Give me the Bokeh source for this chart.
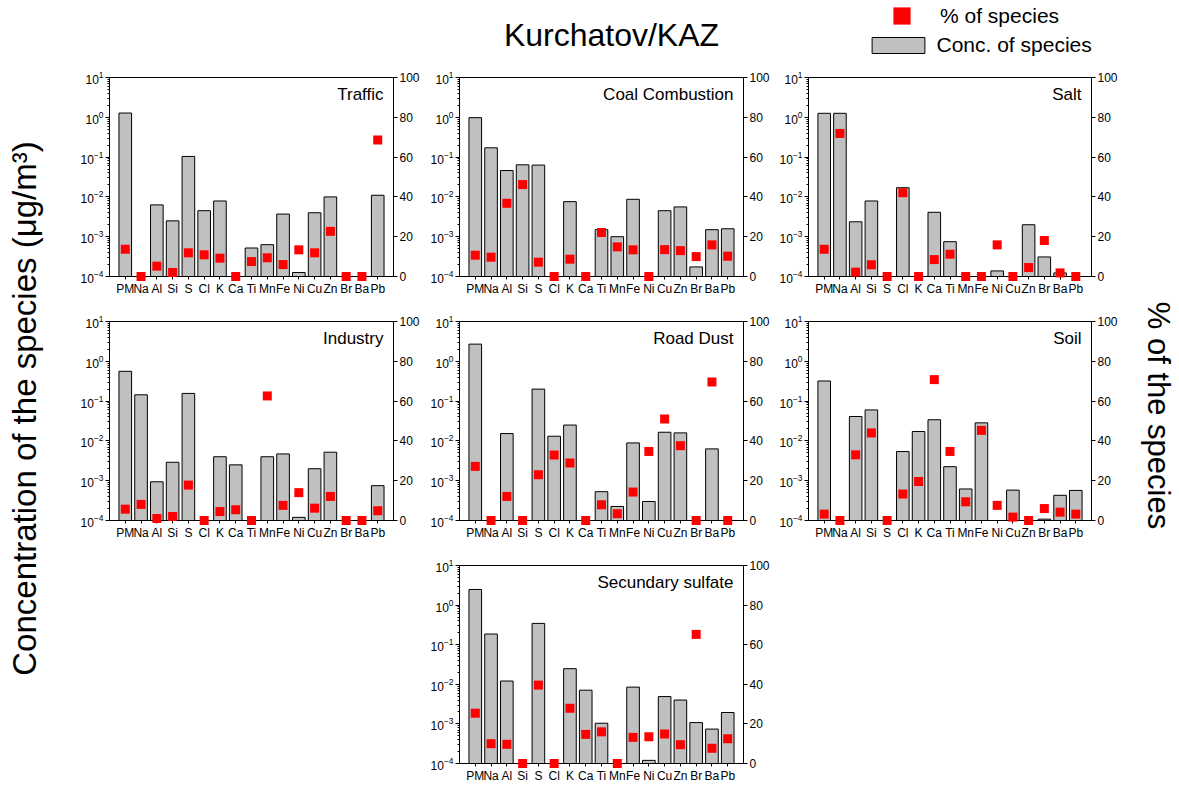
from math import pi
from bokeh.plotting import figure
from bokeh.models import (Range1d, LinearAxis, LinearScale, FixedTicker, Label,
                          Legend, LegendItem, ColumnDataSource, Spacer)
from bokeh.layouts import row, column
from bokeh.embed import file_html
from bokeh.resources import INLINE

FONT = "Liberation Sans"

species = ["PM", "Na", "Al", "Si", "S", "Cl", "K", "Ca", "Ti", "Mn",
           "Fe", "Ni", "Cu", "Zn", "Br", "Ba", "Pb"]

panel_names = ["Traffic", "Coal Combustion", "Salt", "Industry",
               "Road Dust", "Soil", "Secundary sulfate"]

# concentration (ug/m3), None = no bar
traffic_conc = [1.28, None, 6.3e-3, 2.5e-3, 0.104, 4.5e-3, 7.9e-3, None, 5.2e-4,
                6.3e-4, 3.7e-3, 1.26e-4, 4.0e-3, 1.0e-2, None, None, 1.1e-2]
traffic_pct = [13.7, 0, 5.2, 2.0, 11.9, 10.9, 9.2, 0, 7.5, 9.4, 6.0, 13.4,
               11.9, 22.7, 0, 0, 68.6]

coal_conc = [0.98, 0.171, 0.046, 0.064, 0.063, None, 7.6e-3, None, 1.5e-3,
             1.0e-3, 8.7e-3, None, 4.5e-3, 5.6e-3, 1.74e-4, 1.5e-3, 1.58e-3]
coal_pct = [10.7, 9.7, 36.8, 46.2, 7.2, 0, 8.7, 0, 22.1, 14.9, 13.4, 0,
            13.5, 13.0, 10.0, 15.9, 10.2]

salt_conc = [1.26, 1.26, 2.37e-3, 7.9e-3, None, 0.017, None, 4.1e-3, 7.5e-4,
             None, None, 1.38e-4, None, 2.0e-3, 3.1e-4, 1.23e-4, None]
salt_pct = [13.7, 71.9, 2.2, 5.9, 0, 42.1, 0, 8.5, 11.2, 0, 0, 15.9, 0,
            4.5, 18.1, 1.8, 0]

industry_conc = [0.56, 0.144, 9.4e-4, 2.9e-3, 0.156, None, 4.0e-3, 2.5e-3, None,
                 4.0e-3, 4.7e-3, 1.2e-4, 2.0e-3, 5.2e-3, None, None, 7.5e-4]
industry_pct = [5.7, 8.1, 1.0, 2.0, 17.8, 0, 4.5, 5.4, 0, 62.6, 7.6, 14.0,
                6.2, 12.1, 0, 0, 4.9]

road_conc = [2.7, None, 0.0153, None, 0.2, 0.0131, 0.025, None, 5.3e-4,
             2.25e-4, 8.9e-3, 3.0e-4, 0.0165, 0.0159, None, 6.3e-3, None]
road_pct = [27.2, 0, 12.1, 0, 23.0, 32.9, 28.9, 0, 7.9, 3.4, 14.3, 34.7,
            51.0, 37.6, 0, 69.6, 0]

soil_conc = [0.32, None, 0.041, 0.060, None, 5.4e-3, 0.0172, 0.034, 2.25e-3,
             6.2e-4, 0.0284, None, 5.8e-4, None, 1.08e-4, 4.3e-4, 5.7e-4]
soil_pct = [3.2, 0, 33.0, 44.0, 0, 13.3, 19.6, 70.8, 34.7, 9.4, 45.3, 7.6,
            1.7, 0, 6.0, 4.2, 3.2]

sulfate_conc = [2.48, 0.186, 0.0121, None, 0.345, None, 0.0248, 7.1e-3, 1.04e-3,
                None, 8.5e-3, 1.2e-4, 4.9e-3, 4.0e-3, 1.08e-3, 7.4e-4, 1.94e-3]
sulfate_pct = [25.4, 10.0, 9.7, 0, 39.6, 0, 27.9, 14.7, 16.0, 0, 13.2, 13.5,
               14.9, 9.5, 65.2, 7.7, 12.5]

log_ticks = [1e-4, 1e-3, 1e-2, 1e-1, 1e0, 1e1]
log_minor = [m * 10.0 ** e for e in range(-4, 1) for m in range(2, 10)]
pct_ticks = [0, 20, 40, 60, 80, 100]

BAR_STYLE = dict(fill_color="#c0c0c0", line_color="black", line_width=1)
SQ_STYLE = dict(marker="square", fill_color="#ff0000", line_color=None)


def style_axis(ax):
    ax.axis_line_color = "black"
    ax.axis_line_width = 1
    ax.major_tick_line_color = "black"
    ax.minor_tick_line_color = "black"
    ax.major_tick_in = 0
    ax.major_tick_out = 4
    ax.minor_tick_in = 0
    ax.minor_tick_out = 2
    ax.major_label_standoff = 2
    ax.major_label_text_font = FONT
    ax.major_label_text_font_size = "12px"
    ax.major_label_text_color = "black"


def sources(conc, pct):
    bx = [i for i, v in enumerate(conc) if v is not None]
    btop = [v for v in conc if v is not None]
    return (ColumnDataSource(dict(x=bx, top=btop)),
            ColumnDataSource(dict(x=list(range(len(pct))), y=pct)))


def panel(name, conc, pct, width, height, bl, br, bt, bb):
    n = len(species)
    p = figure(width=width, height=height, x_range=Range1d(-1, n),
               y_range=Range1d(1e-4, 10), y_axis_type="log",
               output_backend="svg", toolbar_location=None, title=None,
               min_border_left=bl, min_border_right=br,
               min_border_top=bt, min_border_bottom=bb)
    p.extra_y_ranges = {"pct": Range1d(0, 100)}
    p.extra_y_scales = {"pct": LinearScale()}
    p.xgrid.visible = False
    p.ygrid.visible = False
    p.outline_line_color = "black"
    p.outline_line_width = 1

    bsrc, ssrc = sources(conc, pct)
    p.vbar(x="x", top="top", bottom=1e-4, width=0.8, source=bsrc, **BAR_STYLE)
    p.scatter(x="x", y="y", source=ssrc, size=9, y_range_name="pct",
              level="overlay", **SQ_STYLE)

    ya = p.yaxis[0]
    ya.ticker = FixedTicker(ticks=log_ticks, minor_ticks=log_minor)
    style_axis(ya)

    ra = LinearAxis(y_range_name="pct", ticker=FixedTicker(ticks=pct_ticks))
    style_axis(ra)
    ra.minor_tick_out = 0
    p.add_layout(ra, "right")

    xa = p.xaxis[0]
    xa.ticker = FixedTicker(ticks=list(range(n)))
    xa.major_label_overrides = {i: s for i, s in enumerate(species)}
    style_axis(xa)
    xa.major_tick_out = 3
    xa.minor_tick_out = 0

    p.add_layout(Label(x=n, y=10, x_offset=-10, y_offset=-17, text=name,
                       text_align="right", text_baseline="middle",
                       text_font=FONT, text_font_size="17px", text_color="black"))
    return p


def blank(w, h):
    f = figure(width=w, height=h, x_range=Range1d(0, w), y_range=Range1d(0, h),
               output_backend="svg", toolbar_location=None, title=None,
               min_border=0, x_axis_location=None, y_axis_location=None,
               outline_line_color=None)
    f.grid.visible = False
    return f


# column widths / borders
C = [(366, 49, 33), (350, 33, 33), (354, 31, 39)]
R = [(240, 17, 24), (244, 21, 24), (242, 21, 23)]

data = [(traffic_conc, traffic_pct), (coal_conc, coal_pct), (salt_conc, salt_pct),
        (industry_conc, industry_pct), (road_conc, road_pct), (soil_conc, soil_pct),
        (sulfate_conc, sulfate_pct)]

figs = []
for k, (name, (c, pc)) in enumerate(zip(panel_names, data)):
    if k < 6:
        ci, ri = k % 3, k // 3
    else:
        ci, ri = 1, 2
    w, bl, br = C[ci]
    h, bt, bb = R[ri]
    figs.append(panel(name, c, pc, w, h, bl, br, bt, bb))

# header: title and legend
top = blank(1070, 60)
top.add_layout(Label(x=551, y=26, text="Kurchatov/KAZ", text_align="center",
                     text_baseline="middle", text_font=FONT,
                     text_font_size="32px", text_color="black"))
lb_src, ls_src = sources(salt_conc, salt_pct)
rA = top.scatter(x="x", y="y", source=ls_src, size=17, visible=False, **SQ_STYLE)
rB = top.vbar(x="x", top="top", width=0.8, source=lb_src, visible=False, **BAR_STYLE)
common = dict(padding=0, margin=0, spacing=0, border_line_color=None,
              background_fill_alpha=0, inactive_fill_alpha=0,
              label_text_font=FONT, label_text_font_size="21px",
              label_text_color="black")
legA = Legend(items=[LegendItem(label="% of species", renderers=[rA])],
              location=(820, 23), glyph_width=43, glyph_height=43,
              label_standoff=17, **common)
legB = Legend(items=[LegendItem(label="Conc. of species", renderers=[rB])],
              location=(804.5, 3), glyph_width=66, glyph_height=20,
              label_standoff=6, **common)
top.add_layout(legA)
top.add_layout(legB)

left = blank(60, 786)
left.add_layout(Label(x=24, y=378, text="Concentration of the species (\u03bcg/m\u00b3)",
                      angle=pi / 2, text_align="center", text_baseline="middle",
                      text_font=FONT, text_font_size="33px", text_color="black"))
right = blank(49, 786)
right.add_layout(Label(x=28, y=371, text="% of the species",
                       angle=-pi / 2, text_align="center", text_baseline="middle",
                       text_font=FONT, text_font_size="31px", text_color="black"))

grid = column(top,
              row(figs[0], figs[1], figs[2]),
              row(figs[3], figs[4], figs[5]),
              row(Spacer(width=366, height=242), figs[6], Spacer(width=354, height=242)))
layout = row(left, grid, right)

open("out.html", "w").write(file_html(layout, INLINE, "Kurchatov/KAZ"))
